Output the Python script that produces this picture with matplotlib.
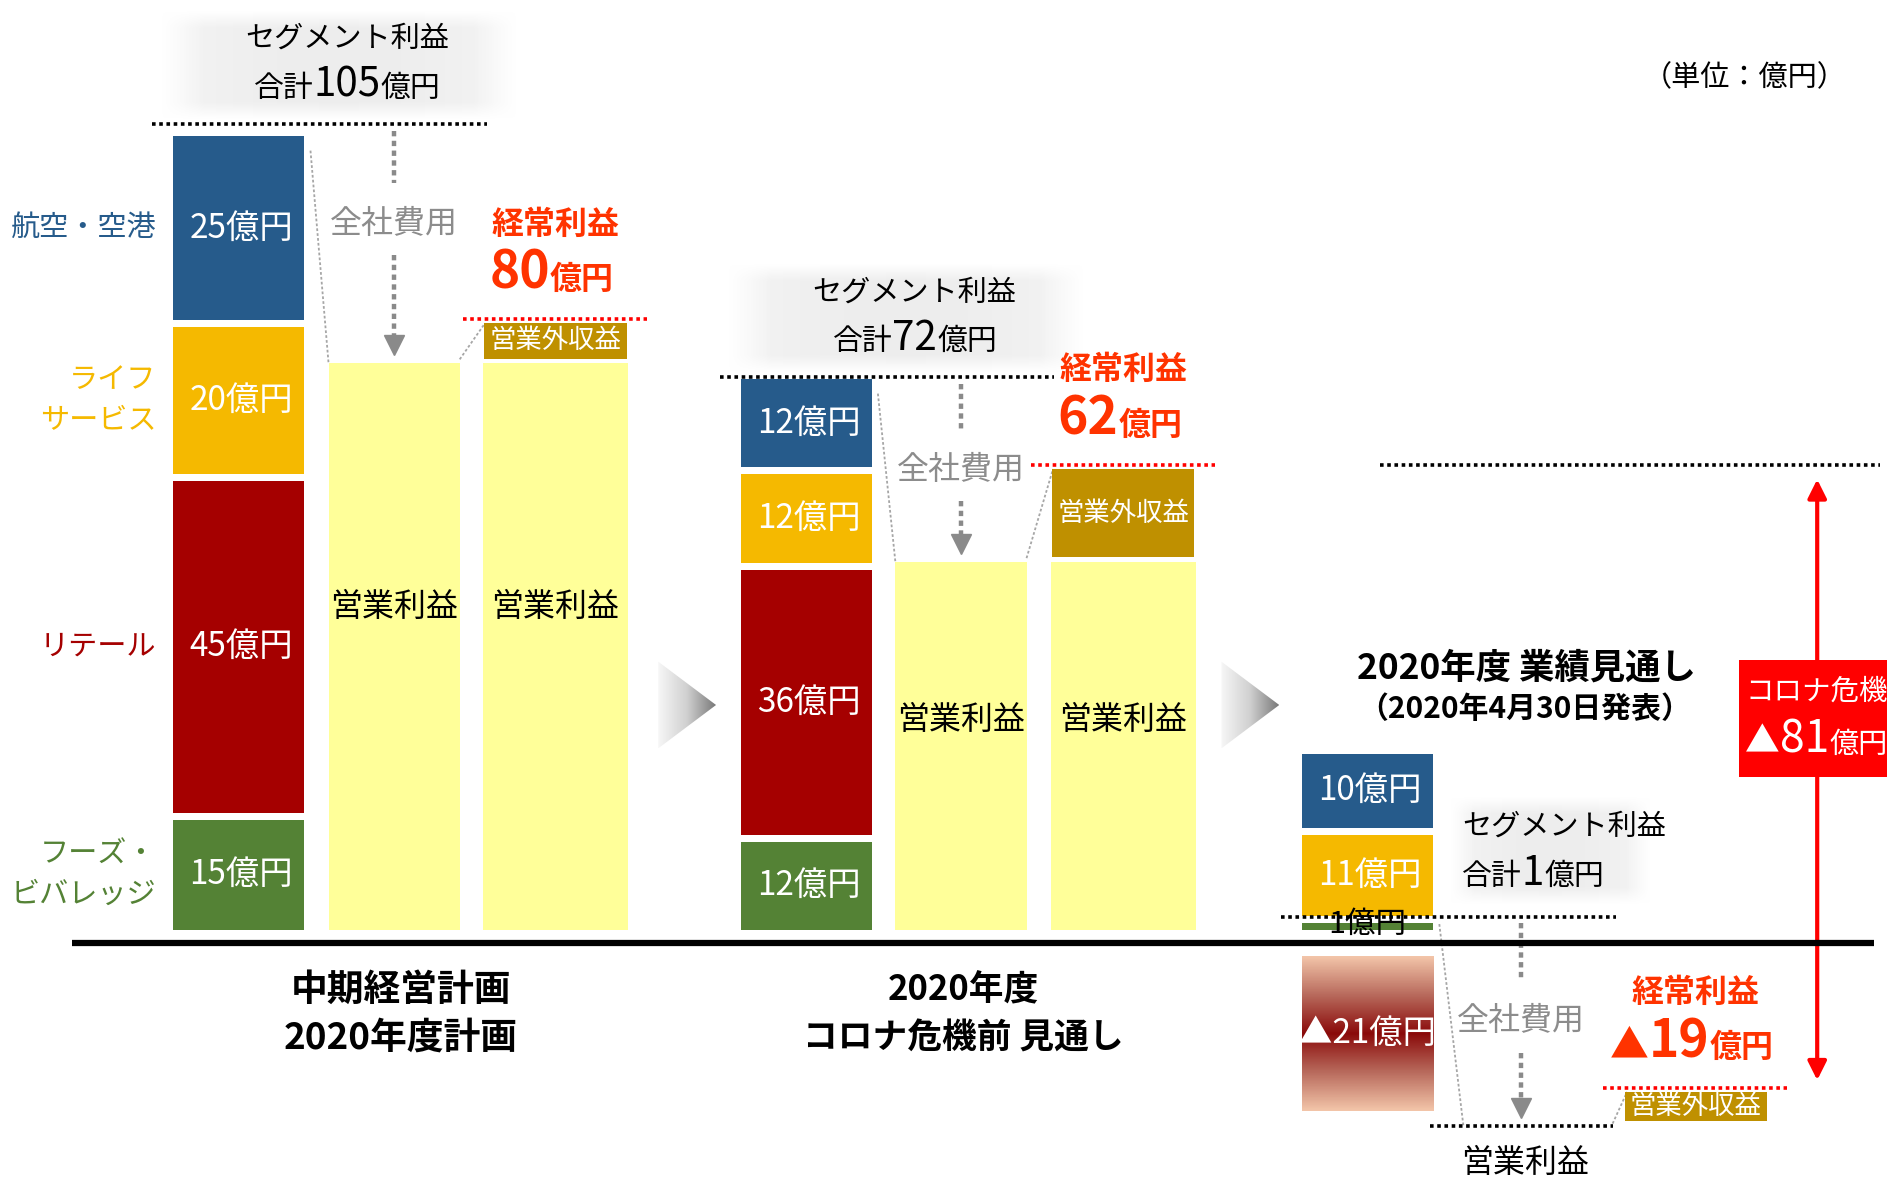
import numpy as np
import matplotlib
matplotlib.use('Agg')
import matplotlib.pyplot as plt
from matplotlib.patches import Rectangle, Polygon
from matplotlib.offsetbox import TextArea, HPacker, AnnotationBbox
from matplotlib.colors import LinearSegmentedColormap

FONT = ['Noto Sans CJK JP', 'DejaVu Sans']
plt.rcParams['font.family'] = FONT

# ---------------- data (億円) ----------------
segment_names = ['航空・空港', 'ライフ\nサービス', 'リテール', 'フーズ・\nビバレッジ']
scenario_titles = [['中期経営計画', '2020年度計画'],
                   ['2020年度', 'コロナ危機前 見通し'],
                   ['2020年度 業績見通し', '（2020年4月30日発表）']]
seg_plan = [25, 20, 45, 15]
seg_pre_covid = [12, 12, 36, 12]
seg_forecast = [10, 11, -21, 1]
segment_total = [105, 72, 1]
corporate_cost = [28, 22, 24]
operating_income = [77, 50, -23]
non_operating = [3, 12, 4]
ordinary_income = [80, 62, -19]
covid_impact = -81
unit_label = '（単位：億円）'

# ---------------- styles / layout ----------------
seg_colors = ['#265b8b', '#f5b900', '#a50000', '#548235']
OP_YELLOW = '#ffff99'
NONOP_COL = '#bf9000'
RED_TXT = '#ff3300'
GRAY_TXT = '#8c8c8c'

W, H = 1887, 1179
fig = plt.figure(figsize=(W / 100, H / 100), dpi=100)
ax = fig.add_axes([0, 0, 1, 1])
ax.axis('off')
LX, LY = 1568, 980
Y0, UNIT = 773, 6.12


def yv(py):
    return (Y0 - py) / UNIT


GAP = 0.95
NEG_OFF = 3.6
BW, OW = 109, 121
seg_x = [198.5, 670, 1136.5]
op_x = [327.5, 798.5, 1264]
ord_x = [461.5, 933.5, 1409]
box_w = [119, 118, 118]
line_pad = [1.6, 0.2]
cost_shift = [2.7, 0.0, 0.0]


def fmt(v):
    return f'{v}億円' if v >= 0 else f'▲{abs(v)}億円'


def mixed(x, y, parts, ha=0.5, z=6):
    kids = [TextArea(s, textprops=dict(fontsize=fs, color=c, fontweight=fw, family=FONT))
            for s, fs, c, fw in parts]
    box = HPacker(children=kids, align='baseline', pad=0, sep=0)
    ab = AnnotationBbox(box, (x, y), frameon=False, box_alignment=(ha, 0.5),
                        xycoords='data', annotation_clip=False, zorder=z)
    ax.add_artist(ab)


def num_parts(v, big, small, color, weight, tri=None):
    parts = []
    if v < 0:
        parts.append(('▲', tri or small, color, weight))
    parts.append((str(abs(v)), big, color, weight))
    parts.append(('億円', small, color, weight))
    return parts


def soft_box(x0, x1, y0, y1):
    ny, nx = 40, 200
    t = np.linspace(0, 1, nx)
    s = np.linspace(0, 1, ny)
    ax_ = np.clip(np.minimum(t, 1 - t) / 0.12, 0, 1)
    ay_ = np.clip(np.minimum(s, 1 - s) / 0.15, 0, 1)
    alpha = np.outer(ay_, ax_) * 0.9
    shade = 0.955 - 0.03 * np.sin(np.pi * t)
    img = np.zeros((ny, nx, 4))
    img[..., 0] = shade
    img[..., 1] = shade
    img[..., 2] = shade
    img[..., 3] = alpha
    ax.imshow(img, extent=[x0, x1, y0, y1], aspect='auto', zorder=0,
              interpolation='bilinear', origin='lower')


dotted = dict(linestyle=(0, (1, 1)), lw=2.6, solid_capstyle='butt')

# ---------------- segment stacks ----------------
stacks = [seg_plan, seg_pre_covid, seg_forecast]
seg_tops = []
for c, vals in enumerate(stacks):
    bottom = 0.0
    for i in [3, 2, 1, 0]:
        v = vals[i]
        if v >= 0:
            ax.bar(seg_x[c], v, BW, bottom=bottom, color=seg_colors[i], zorder=2)
            if v >= 5:
                ax.text(seg_x[c] + 2, bottom + v / 2, fmt(v), color='white', fontsize=24,
                        ha='center', va='center', zorder=6)
            else:
                ax.text(seg_x[c], bottom + v / 2 + 0.3, fmt(v), color='black', fontsize=22,
                        ha='center', va='center', zorder=6)
            bottom += v + GAP
        else:
            b = ax.bar(seg_x[c], v, BW, bottom=-NEG_OFF, color='none', zorder=2)[0]
            cm = LinearSegmentedColormap.from_list(
                'neg', ['#f3c5a9', '#b86a5c', '#8a0a0a', '#b86a5c', '#f3c5a9'])
            grad = np.linspace(0, 1, 200).reshape(-1, 1)
            im = ax.imshow(grad, cmap=cm, extent=[seg_x[c] - BW / 2, seg_x[c] + BW / 2,
                                                  -NEG_OFF + v, -NEG_OFF],
                           aspect='auto', zorder=2, interpolation='bilinear', origin='upper')
            im.set_clip_path(b)
            ax.text(seg_x[c], -NEG_OFF + v / 2, fmt(v), color='white', fontsize=24,
                    ha='center', va='center', zorder=6)
    seg_tops.append(bottom - GAP)

# segment category labels (left side, aligned with first stack)
b0 = 0.0
centers = {}
for i in [3, 2, 1, 0]:
    centers[i] = b0 + seg_plan[i] / 2
    b0 += seg_plan[i] + GAP
for i in range(4):
    ax.text(130, centers[i], segment_names[i], color=seg_colors[i], fontsize=21,
            ha='right', va='center', linespacing=1.45, zorder=6)

# ---------------- segment total lines + titles ----------------
seg_line = []
for c in range(3):
    if min(stacks[c]) >= 0:
        ly = seg_tops[c] + line_pad[c]
    else:
        ly = segment_total[c] + 0.8
    seg_line.append(ly)
    ax.plot([seg_x[c] - 72, seg_x[c] + 206], [ly, ly], color='black', zorder=3, **dotted)

for c in range(2):
    bx0, bx1 = seg_x[c] - 65, seg_x[c] + 230
    by0, by1 = seg_line[c] + 0.6, seg_line[c] + 15.5
    soft_box(bx0, bx1, by0, by1)
    cy = (by0 + by1) / 2
    tx = seg_x[c] + 90
    ax.text(tx, cy + 3.5, 'セグメント利益', fontsize=21, ha='center', va='center', zorder=6)
    mixed(tx, cy - 2.8, [('合計', 21.5, 'black', 'normal'), (str(segment_total[c]), 29, 'black', 'normal'),
                         ('億円', 21.5, 'black', 'normal')])
# third segment title box (to the right of the stack)
soft_box(1205, 1372, yv(752), yv(662))
ax.text(1215, yv(687), 'セグメント利益', fontsize=21, ha='left', va='center', zorder=6)
mixed(1215, yv(726), [('合計', 21.5, 'black', 'normal'), (str(segment_total[2]), 29, 'black', 'normal'),
                      ('億円', 21.5, 'black', 'normal')], ha=0)

# ---------------- operating income / corporate cost ----------------
op_axis = [v if v >= 0 else v - NEG_OFF for v in operating_income]
for c in range(3):
    if operating_income[c] >= 0:
        ax.bar(op_x[c], operating_income[c], BW, color=OP_YELLOW, zorder=2)
        ax.text(op_x[c], operating_income[c] * 0.57, '営業利益', fontsize=23,
                ha='center', va='center', zorder=6)
    else:
        ax.plot([op_x[c] - 76, op_x[c] + 76], [op_axis[c]] * 2, color='black', zorder=3, **dotted)
        ax.text(op_x[c] + 3, op_axis[c] - 5.0, '営業利益', fontsize=23,
                ha='center', va='center', zorder=6)
    # corporate cost arrow
    top = seg_line[c] - 0.9
    bot = op_axis[c] + 1.3
    mid = (seg_line[c] + op_axis[c]) / 2 + cost_shift[c]
    dstyle = dict(color='#8a8a8a', lw=3.2, linestyle=(0, (1.2, 1)), zorder=3)
    ax.plot([op_x[c]] * 2, [top, mid + 5.5], **dstyle)
    ax.text(op_x[c], mid, '全社費用', fontsize=23, color=GRAY_TXT, ha='center', va='center', zorder=6)
    ax.plot([op_x[c]] * 2, [mid - 4.3, bot + 2.0], **dstyle)
    ax.plot(op_x[c], bot + 1.1, marker='v', ms=14, color='#8a8a8a', zorder=3)

# ---------------- ordinary income ----------------
ord_line = []
for c in range(3):
    if operating_income[c] >= 0:
        ax.bar(ord_x[c], operating_income[c], OW, color=OP_YELLOW, zorder=2)
        ax.text(ord_x[c], operating_income[c] * 0.57, '営業利益', fontsize=23,
                ha='center', va='center', zorder=6)
    bb = op_axis[c] + 0.6
    hh = max(non_operating[c], 4.8) if operating_income[c] >= 0 else non_operating[c]
    ax.bar(ord_x[c], hh, box_w[c], bottom=bb, color=NONOP_COL, zorder=2)
    ax.text(ord_x[c], bb + hh / 2, '営業外収益', fontsize=19, color='white',
            ha='center', va='center', zorder=6)
    rl = bb + hh + 0.6
    ord_line.append(rl)
    ax.plot([ord_x[c] - 77, ord_x[c] + 76], [rl, rl], color='#ff0000', zorder=3, **dotted)
    ax.text(ord_x[c], rl + 12.8, '経常利益', fontsize=23, color=RED_TXT, fontweight='bold',
            ha='center', va='center', zorder=6)
    mixed(ord_x[c] - 3, rl + 6.2, num_parts(ordinary_income[c], 37, 23, RED_TXT, 'bold', tri=28))
    # connector lines
    gl = dict(color='#a6a6a6', lw=1.3, linestyle=(0, (1.5, 1.2)), zorder=1)
    if c < 2:
        ax.plot([seg_x[c] + BW / 2 + 5, op_x[c] - BW / 2], [seg_tops[c] - 2, op_axis[c]], **gl)
        ax.plot([op_x[c] + BW / 2, ord_x[c] - OW / 2 + 2], [op_axis[c] + 0.5, bb + hh], **gl)
    else:
        ax.plot([seg_x[c] + BW / 2 + 5, op_x[c] - 48], [seg_line[c] - 1, op_axis[c]], **gl)
        ax.plot([op_x[c] + 76, ord_x[c] - box_w[c] / 2 + 2], [op_axis[c] + 0.3, bb + hh], **gl)

# ---------------- baseline ----------------
ax.plot([60, 1557], [-NEG_OFF / 2] * 2, color='black', lw=4.5, zorder=4, solid_capstyle='butt')

# ---------------- chevrons ----------------
cmg = LinearSegmentedColormap.from_list('chev', ['#f7f7f7', '#d0d0d0', '#7a7a7a'])
for x0 in [547, 1015]:
    pts = [(x0, yv(550)), (x0 + 48, yv(586)), (x0, yv(622))]
    poly = Polygon(pts, closed=True, facecolor='none', edgecolor='none')
    ax.add_patch(poly)
    g = np.linspace(0, 1, 200).reshape(1, -1)
    im = ax.imshow(g, cmap=cmg, extent=[x0, x0 + 48, yv(622), yv(550)], aspect='auto',
                   zorder=1, interpolation='bilinear')
    im.set_clip_path(poly)

# ---------------- scenario titles ----------------
ax.text((seg_x[0] - BW / 2 + ord_x[0] + OW / 2) / 2, yv(843), '\n'.join(scenario_titles[0]),
        fontsize=26.5, fontweight='bold', ha='center', va='center', linespacing=1.4, zorder=6)
ax.text((seg_x[1] - BW / 2 + ord_x[1] + OW / 2) / 2 - 4, yv(843), '\n'.join(scenario_titles[1]),
        fontsize=25, fontweight='bold', ha='center', va='center', linespacing=1.45, zorder=6)
ax.text(1268, yv(555), scenario_titles[2][0], fontsize=25.5, fontweight='bold',
        ha='center', va='center', zorder=6)
ax.text(1267, yv(589), scenario_titles[2][1], fontsize=21.5, fontweight='bold',
        ha='center', va='center', zorder=6)

ax.text(1450, yv(65), unit_label, fontsize=21, ha='center', va='center', zorder=6)

# ---------------- covid impact ----------------
ax.plot([1147, 1562], [ord_line[1]] * 2, color='black', zorder=3, **dotted)
ax.annotate('', xy=(1510, ord_line[1] - 2.0), xytext=(1510, ord_line[2] + 1.0),
            arrowprops=dict(arrowstyle='<|-|>', color='#ff0000', lw=3, mutation_scale=28,
                            shrinkA=0, shrinkB=0), zorder=3)
ax.add_patch(Rectangle((1445, yv(646)), 200, yv(549) - yv(646), facecolor='#ff0000',
                       edgecolor='none', zorder=5))
ax.text(1510, yv(575), 'コロナ危機', fontsize=20.5, color='white', ha='center', va='center',
        zorder=6, clip_on=True)
mixed(1450, yv(615), num_parts(covid_impact, 32, 21, 'white', 'normal', tri=25), ha=0)

ax.set_xlim(0, LX)
ax.set_ylim(yv(LY), yv(0))
fig.savefig('out.png', dpi=100, facecolor='white')
